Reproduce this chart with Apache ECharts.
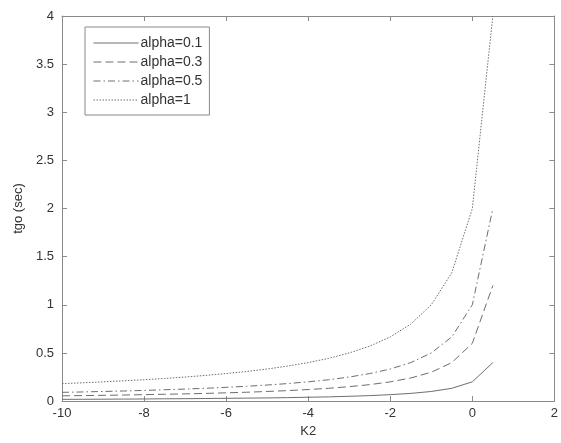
<!DOCTYPE html>
<html>
<head>
<meta charset="utf-8">
<script src="https://cdn.jsdelivr.net/npm/echarts@6/dist/echarts.min.js"></script>
<style>html,body{margin:0;padding:0;background:#fff}#c{width:561px;height:443px}</style>
</head>
<body>
<div id="c"></div>
<script>
var K2 = [-10,-9.5,-9,-8.5,-8,-7.5,-7,-6.5,-6,-5.5,-5,-4.5,-4,-3.5,-3,-2.5,-2,-1.5,-1,-0.5,0,0.5];
var alpha01 = [0.018,0.019,0.020,0.021,0.022,0.024,0.025,0.027,0.029,0.031,0.033,0.036,0.040,0.044,0.050,0.057,0.067,0.080,0.100,0.133,0.200,0.400];
var alpha03 = [0.055,0.057,0.060,0.063,0.067,0.071,0.075,0.080,0.086,0.092,0.100,0.109,0.120,0.133,0.150,0.171,0.200,0.240,0.300,0.400,0.600,1.200];
var alpha05 = [0.091,0.095,0.100,0.105,0.111,0.118,0.125,0.133,0.143,0.154,0.167,0.182,0.200,0.222,0.250,0.286,0.333,0.400,0.500,0.667,1.000,2.000];
var alpha1  = [0.182,0.190,0.200,0.211,0.222,0.235,0.250,0.267,0.286,0.308,0.333,0.364,0.400,0.444,0.500,0.571,0.667,0.800,1.000,1.333,2.000,4.000];
var seriesNames = ['alpha=0.1','alpha=0.3','alpha=0.5','alpha=1'];
var xTicks = [-10,-8,-6,-4,-2,0,2];
var yTicks = [0,0.5,1,1.5,2,2.5,3,3.5,4];

function pairs(ys){ return K2.map(function(k,i){ return [k, ys[i]]; }); }
var dashTypes = ['solid',[8,4],[7,3,1.5,3],[1.5,1.5]];
var allData = [alpha01, alpha03, alpha05, alpha1];
var lineColor = '#6e6e6e';
var axisColor = '#8a8a8a';
var textColor = '#333';
var font = 'Liberation Sans, Arial, sans-serif';

var chart = echarts.init(document.getElementById('c'), null, {renderer:'canvas'});
function axisBase(pos, showLabel, isX){
  return {
    type:'value', position:pos,
    min: isX ? xTicks[0] : yTicks[0],
    max: isX ? xTicks[xTicks.length-1] : yTicks[yTicks.length-1],
    interval: isX ? 2 : 0.5,
    axisLine:{show:true, onZero:false, lineStyle:{color:axisColor, width:1}},
    axisTick:{show:true, inside:true, length:5, lineStyle:{color:axisColor}},
    axisLabel:{show:showLabel, color:textColor, fontSize:13, fontFamily:font, margin:isX?6:8,
      formatter:function(v){ return String(Math.round(v*10)/10); }},
    splitLine:{show:false}
  };
}
var xMain = axisBase('bottom', true, true);
xMain.name = 'K2'; xMain.nameLocation = 'middle'; xMain.nameGap = 21;
xMain.nameTextStyle = {color:textColor, fontSize:13, fontFamily:font};
var yMain = axisBase('left', true, false);
yMain.name = 'tgo (sec)'; yMain.nameLocation = 'middle'; yMain.nameGap = 31;
yMain.nameTextStyle = {color:textColor, fontSize:13, fontFamily:font};

chart.setOption({
  animation:false,
  backgroundColor:'#fff',
  grid:{left:62, right:5, top:16, bottom:38, containLabel:false},
  xAxis:[xMain, axisBase('top', false, true)],
  yAxis:[yMain, axisBase('right', false, false)],
  legend:{
    orient:'vertical', left:85, top:27,
    padding:[9,7,8,8],
    itemWidth:45, itemHeight:14, itemGap:5,
    borderColor:axisColor, borderWidth:1,
    itemStyle:{opacity:0},
    lineStyle:{width:1},
    textStyle:{color:textColor, fontSize:14, fontFamily:font, padding:[0,0,0,-3]},
    data:seriesNames
  },
  series: allData.map(function(d,i){
    return {
      name: seriesNames[i], type:'line', xAxisIndex:0, yAxisIndex:0,
      data: pairs(d), symbol:'none', showSymbol:false,
      lineStyle:{color:lineColor, width:1, type:dashTypes[i]},
      itemStyle:{color:lineColor}
    };
  })
});
</script>
</body>
</html>
